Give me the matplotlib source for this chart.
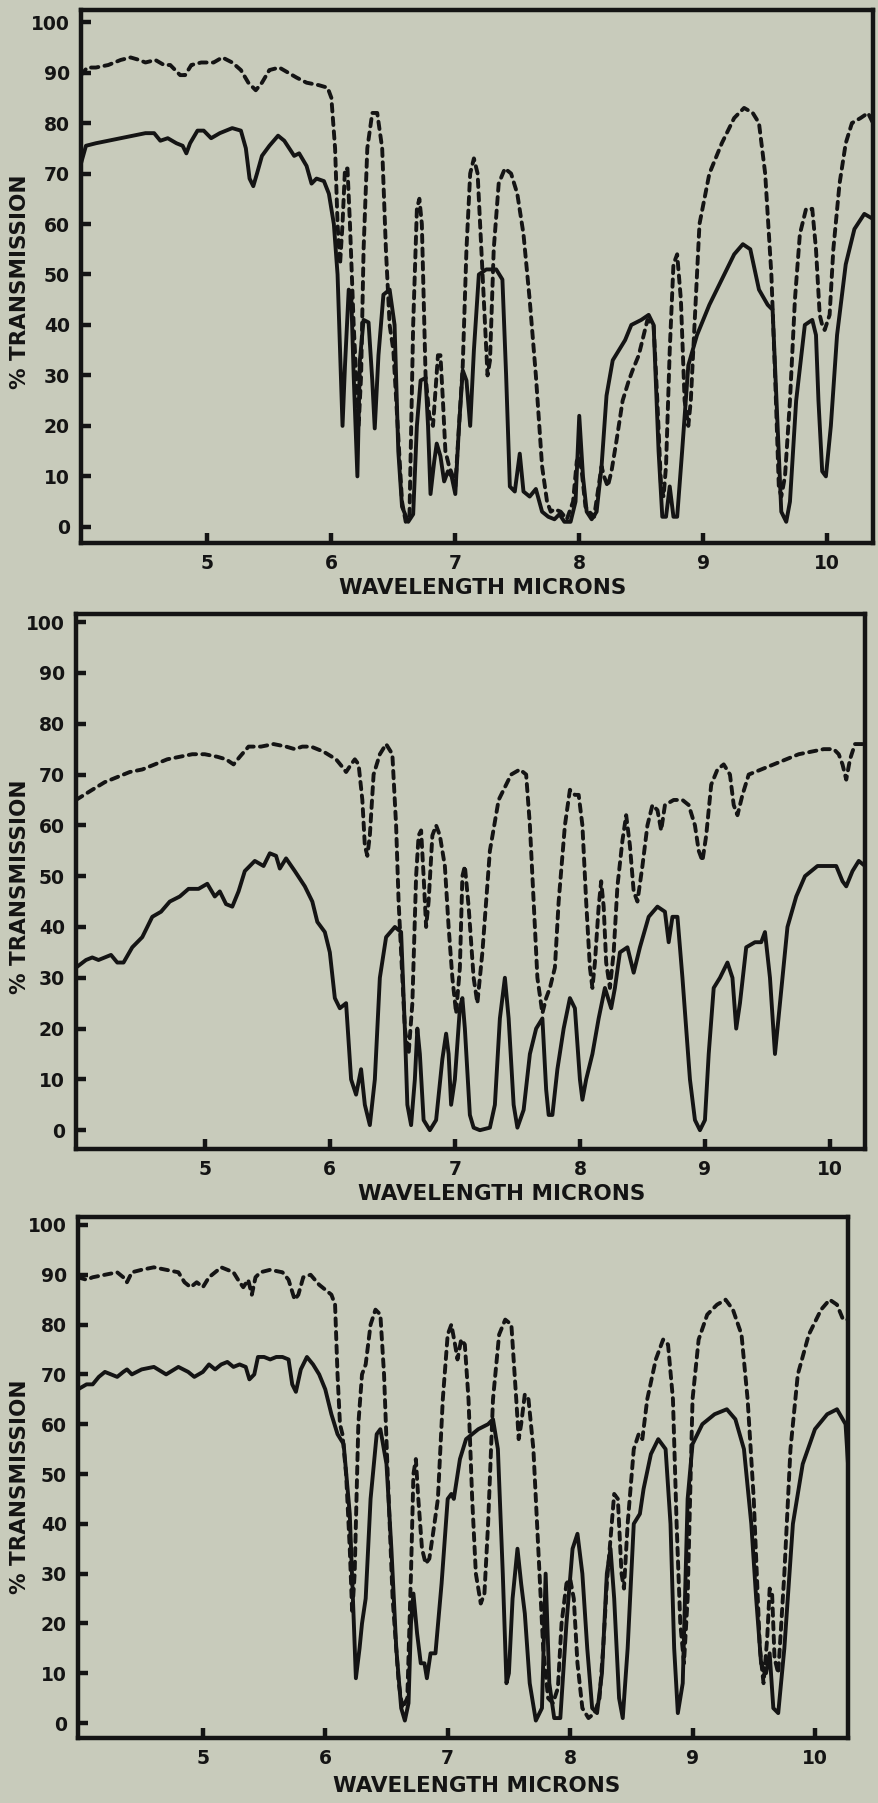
import numpy as np
import matplotlib
matplotlib.use("Agg")
import matplotlib.pyplot as plt

# ---- data (wavelength in microns, % transmission) ----
p1_solid = [
    (3.98, 72), (4.02, 75.5), (4.1, 76), (4.3, 77), (4.5, 78), (4.57, 78), (4.62, 76.5),
    (4.68, 77), (4.75, 76), (4.8, 75.5), (4.83, 74), (4.86, 76), (4.92, 78.5), (4.97, 78.5),
    (5.03, 77), (5.1, 78), (5.2, 79), (5.27, 78.5), (5.31, 75), (5.34, 69), (5.37, 67.5),
    (5.40, 70), (5.44, 73.5), (5.5, 75.5), (5.57, 77.5), (5.62, 76.5), (5.7, 73.5), (5.74, 74),
    (5.8, 71.5), (5.84, 68), (5.88, 69), (5.94, 68.5), (5.98, 66), (6.02, 60), (6.05, 50),
    (6.07, 35), (6.09, 20), (6.11, 32), (6.14, 47), (6.16, 46), (6.18, 30), (6.21, 10),
    (6.23, 33), (6.26, 41), (6.30, 40.5), (6.33, 29), (6.35, 19.5), (6.38, 34), (6.42, 46),
    (6.47, 47), (6.51, 40), (6.54, 15), (6.57, 4), (6.62, 1), (6.66, 2.5), (6.69, 20),
    (6.72, 29), (6.76, 29.5), (6.78, 20), (6.80, 6.5), (6.83, 13), (6.85, 16.5), (6.88, 14),
    (6.91, 9), (6.94, 11), (6.97, 10), (7.00, 6.5), (7.03, 20), (7.06, 31), (7.09, 29),
    (7.12, 20), (7.15, 35), (7.19, 50), (7.25, 51), (7.33, 51), (7.38, 49), (7.41, 30),
    (7.44, 8), (7.48, 7), (7.52, 14.5), (7.55, 7), (7.60, 6), (7.65, 7.5), (7.70, 3),
    (7.75, 2), (7.80, 1.5), (7.84, 2.5), (7.88, 1), (7.93, 1), (7.97, 5), (8.00, 22),
    (8.03, 10), (8.06, 3), (8.10, 1.5), (8.14, 3), (8.18, 12), (8.22, 26), (8.27, 33),
    (8.32, 35), (8.37, 37), (8.42, 40), (8.50, 41), (8.56, 42), (8.60, 40), (8.64, 15),
    (8.67, 2), (8.70, 2), (8.73, 8), (8.76, 2), (8.79, 2), (8.83, 15), (8.88, 32),
    (8.95, 38), (9.05, 44), (9.15, 49), (9.25, 54), (9.32, 56), (9.38, 55), (9.45, 47),
    (9.52, 44), (9.56, 43), (9.60, 20), (9.63, 3), (9.67, 1), (9.70, 5), (9.75, 25),
    (9.82, 40), (9.88, 41), (9.91, 38), (9.93, 25), (9.96, 11), (9.99, 10), (10.03, 20),
    (10.08, 38), (10.15, 52), (10.22, 59), (10.30, 62), (10.37, 61),
]
p1_dashed = [
    (3.98, 89.5), (4.03, 91), (4.1, 91), (4.2, 91.5), (4.3, 92.5), (4.38, 93), (4.45, 92.5),
    (4.5, 92), (4.58, 92.5), (4.65, 91.5), (4.7, 91.5), (4.78, 89.5), (4.82, 89.5),
    (4.87, 91.5), (4.95, 92), (5.05, 92), (5.12, 93), (5.2, 92), (5.27, 90.5), (5.33, 88),
    (5.39, 86.5), (5.44, 88), (5.5, 90.5), (5.58, 91), (5.65, 90), (5.72, 89), (5.8, 88),
    (5.9, 87.5), (5.97, 87), (6.0, 85), (6.03, 75), (6.05, 60), (6.07, 52), (6.09, 60),
    (6.11, 71), (6.13, 71), (6.15, 60), (6.18, 40), (6.2, 30), (6.22, 20), (6.24, 30),
    (6.26, 55), (6.29, 75), (6.33, 82), (6.37, 82), (6.41, 75), (6.44, 55), (6.47, 40),
    (6.5, 35), (6.53, 22), (6.57, 5), (6.6, 1), (6.63, 2), (6.66, 40), (6.69, 63),
    (6.71, 65), (6.73, 60), (6.76, 30), (6.79, 22), (6.82, 20), (6.86, 34), (6.88, 34),
    (6.9, 25), (6.92, 15), (6.95, 12), (6.98, 10), (7.0, 8), (7.03, 20), (7.06, 32),
    (7.09, 55), (7.12, 70), (7.15, 73), (7.18, 70), (7.21, 55), (7.24, 40), (7.26, 30),
    (7.28, 33), (7.31, 55), (7.35, 68), (7.4, 71), (7.45, 70), (7.5, 66), (7.55, 58),
    (7.6, 45), (7.65, 30), (7.7, 12), (7.74, 5), (7.77, 3), (7.8, 3.5), (7.85, 3),
    (7.9, 1.5), (7.95, 5), (7.98, 13), (8.0, 14), (8.02, 11), (8.05, 4), (8.08, 3),
    (8.12, 2), (8.15, 7), (8.18, 12), (8.2, 10), (8.23, 8), (8.26, 11), (8.3, 17),
    (8.35, 25), (8.4, 29), (8.43, 31), (8.48, 34), (8.55, 41), (8.6, 40), (8.63, 25),
    (8.66, 8), (8.68, 6), (8.7, 12), (8.73, 35), (8.76, 52), (8.79, 54), (8.82, 45),
    (8.85, 25), (8.88, 20), (8.9, 25), (8.93, 40), (8.97, 60), (9.05, 70), (9.15, 76),
    (9.25, 81), (9.33, 83), (9.4, 82), (9.45, 80), (9.5, 70), (9.55, 50), (9.58, 30),
    (9.61, 8), (9.63, 6), (9.66, 10), (9.7, 25), (9.74, 45), (9.78, 58), (9.83, 63),
    (9.88, 63), (9.91, 55), (9.94, 42), (9.96, 40), (9.98, 39), (10.02, 42), (10.05, 55),
    (10.1, 68), (10.15, 76), (10.2, 80), (10.27, 81), (10.33, 82), (10.37, 80),
]
p2_solid = [
    (3.97, 32), (4.05, 33.5), (4.1, 34), (4.15, 33.5), (4.2, 34), (4.25, 34.5), (4.3, 33),
    (4.35, 33), (4.42, 36), (4.5, 38), (4.58, 42), (4.65, 43), (4.72, 45), (4.8, 46),
    (4.87, 47.5), (4.95, 47.5), (5.02, 48.5), (5.08, 46), (5.12, 47), (5.17, 44.5),
    (5.22, 44), (5.27, 47), (5.32, 51), (5.4, 53), (5.47, 52), (5.52, 54.5), (5.57, 54),
    (5.6, 51.5), (5.65, 53.5), (5.72, 51), (5.8, 48), (5.86, 45), (5.9, 41), (5.96, 39),
    (6.0, 35), (6.04, 26), (6.08, 24), (6.13, 25), (6.17, 10), (6.21, 7), (6.25, 12),
    (6.28, 5), (6.32, 1), (6.36, 10), (6.4, 30), (6.45, 38), (6.52, 40), (6.57, 39),
    (6.6, 20), (6.62, 5), (6.65, 1), (6.68, 10), (6.7, 20), (6.72, 15), (6.75, 2), (6.8, 0),
    (6.85, 2), (6.9, 14), (6.93, 19), (6.95, 15), (6.97, 5), (7.0, 10), (7.04, 24),
    (7.06, 26), (7.08, 20), (7.12, 3), (7.15, 0.5), (7.2, 0), (7.28, 0.5), (7.32, 5),
    (7.36, 22), (7.4, 30), (7.43, 22), (7.47, 5), (7.5, 0.5), (7.55, 4), (7.6, 15),
    (7.65, 20), (7.7, 22), (7.73, 8), (7.75, 3), (7.78, 3), (7.82, 12), (7.87, 20),
    (7.92, 26), (7.96, 24), (8.0, 10), (8.02, 6), (8.05, 10), (8.1, 15), (8.15, 22),
    (8.2, 28), (8.25, 24), (8.28, 28), (8.32, 35), (8.38, 36), (8.43, 31), (8.48, 36),
    (8.55, 42), (8.62, 44), (8.68, 43), (8.71, 37), (8.74, 42), (8.78, 42), (8.82, 30),
    (8.88, 10), (8.92, 2), (8.96, 0), (9.0, 2), (9.03, 15), (9.07, 28), (9.12, 30),
    (9.18, 33), (9.22, 30), (9.25, 20), (9.28, 25), (9.33, 36), (9.4, 37), (9.45, 37),
    (9.48, 39), (9.52, 30), (9.56, 15), (9.6, 25), (9.66, 40), (9.73, 46), (9.8, 50),
    (9.9, 52), (9.98, 52), (10.05, 52), (10.1, 49), (10.13, 48), (10.18, 51), (10.23, 53),
    (10.28, 52),
]
p2_dashed = [
    (3.97, 65), (4.1, 67), (4.2, 68.5), (4.3, 69.5), (4.4, 70.5), (4.5, 71), (4.6, 72),
    (4.7, 73), (4.8, 73.5), (4.9, 74), (5.0, 74), (5.1, 73.5), (5.17, 73), (5.23, 72),
    (5.28, 73.5), (5.35, 75.5), (5.45, 75.5), (5.55, 76), (5.65, 75.5), (5.72, 75),
    (5.78, 75.5), (5.85, 75.5), (5.95, 74.5), (6.05, 73), (6.1, 71.5), (6.13, 70.5),
    (6.17, 72), (6.2, 73), (6.23, 72), (6.26, 65), (6.28, 56), (6.3, 54), (6.32, 58),
    (6.35, 70), (6.4, 74), (6.45, 76), (6.5, 74), (6.53, 60), (6.55, 45), (6.58, 30),
    (6.6, 20), (6.63, 15), (6.66, 25), (6.69, 50), (6.71, 58), (6.73, 59), (6.75, 50),
    (6.77, 40), (6.79, 45), (6.82, 58), (6.85, 60), (6.88, 58), (6.92, 52), (6.95, 40),
    (6.98, 30), (7.01, 23), (7.04, 32), (7.06, 50), (7.08, 52), (7.11, 44), (7.15, 30),
    (7.18, 25), (7.22, 35), (7.28, 55), (7.35, 65), (7.45, 70), (7.52, 71), (7.57, 70),
    (7.6, 60), (7.63, 45), (7.66, 30), (7.7, 23), (7.73, 26), (7.76, 28), (7.8, 32),
    (7.83, 45), (7.88, 60), (7.92, 67), (7.96, 66), (7.99, 66), (8.02, 60), (8.05, 45),
    (8.08, 32), (8.1, 28), (8.12, 33), (8.15, 44), (8.17, 49), (8.19, 44), (8.21, 33),
    (8.24, 28), (8.27, 35), (8.3, 48), (8.34, 57), (8.37, 62), (8.4, 56), (8.43, 47),
    (8.46, 45), (8.5, 52), (8.54, 60), (8.58, 64), (8.62, 63), (8.65, 59), (8.68, 64),
    (8.75, 65), (8.82, 65), (8.87, 64), (8.92, 60), (8.95, 55), (8.98, 53), (9.01, 58),
    (9.05, 68), (9.1, 71), (9.15, 72), (9.2, 70), (9.23, 64), (9.26, 62), (9.3, 66),
    (9.35, 70), (9.45, 71), (9.55, 72), (9.65, 73), (9.75, 74), (9.85, 74.5), (9.95, 75),
    (10.03, 75), (10.07, 74), (10.1, 72), (10.13, 69), (10.16, 73), (10.2, 76), (10.28, 76),
]
p3_solid = [
    (3.98, 67), (4.05, 68), (4.1, 68), (4.15, 69.5), (4.2, 70.5), (4.25, 70), (4.3, 69.5),
    (4.35, 70.5), (4.38, 71), (4.42, 70), (4.5, 71), (4.6, 71.5), (4.7, 70), (4.8, 71.5),
    (4.88, 70.5), (4.93, 69.5), (5.0, 70.5), (5.05, 72), (5.1, 71), (5.15, 72), (5.2, 72.5),
    (5.25, 71.5), (5.3, 72), (5.35, 71.5), (5.38, 69), (5.42, 70), (5.45, 73.5), (5.5, 73.5),
    (5.55, 73), (5.6, 73.5), (5.65, 73.5), (5.7, 73), (5.73, 68), (5.76, 66.5), (5.8, 71),
    (5.85, 73.5), (5.9, 72), (5.95, 70), (6.0, 67), (6.05, 62), (6.1, 58), (6.15, 56),
    (6.2, 42), (6.23, 22), (6.25, 9), (6.28, 15), (6.3, 20), (6.33, 25), (6.37, 45),
    (6.42, 58), (6.45, 59), (6.5, 52), (6.54, 35), (6.58, 15), (6.62, 3), (6.65, 0.5),
    (6.68, 4), (6.7, 20), (6.72, 26), (6.75, 18), (6.78, 12), (6.81, 12), (6.83, 9),
    (6.86, 14), (6.9, 14), (6.95, 28), (7.0, 45), (7.03, 46), (7.05, 45), (7.1, 53),
    (7.15, 57), (7.25, 59), (7.33, 60), (7.37, 61), (7.41, 55), (7.45, 30), (7.48, 8),
    (7.5, 10), (7.53, 25), (7.57, 35), (7.6, 28), (7.63, 22), (7.67, 8), (7.72, 0.5),
    (7.77, 3), (7.8, 30), (7.83, 8), (7.87, 1), (7.92, 1), (7.97, 20), (8.02, 35),
    (8.06, 38), (8.1, 30), (8.14, 15), (8.18, 3), (8.22, 2), (8.26, 10), (8.3, 30),
    (8.33, 35), (8.36, 25), (8.4, 5), (8.43, 1), (8.47, 15), (8.52, 40), (8.57, 42),
    (8.6, 47), (8.66, 54), (8.72, 57), (8.78, 55), (8.82, 40), (8.85, 15), (8.88, 2),
    (8.92, 8), (8.96, 45), (9.0, 56), (9.08, 60), (9.18, 62), (9.28, 63), (9.35, 61),
    (9.42, 55), (9.48, 40), (9.52, 25), (9.56, 12), (9.6, 10), (9.63, 14), (9.66, 3),
    (9.7, 2), (9.75, 15), (9.82, 40), (9.9, 52), (10.0, 59), (10.1, 62), (10.18, 63),
    (10.25, 60), (10.27, 52),
]
p3_dashed = [
    (3.98, 89.5), (4.05, 89), (4.1, 89.5), (4.2, 90), (4.3, 90.5), (4.35, 89.5),
    (4.38, 88.5), (4.42, 90.5), (4.5, 91), (4.6, 91.5), (4.7, 91), (4.8, 90.5), (4.85, 88.5),
    (4.9, 87.5), (4.95, 88.5), (5.0, 87.5), (5.05, 89.5), (5.1, 90.5), (5.15, 91.5),
    (5.2, 91), (5.25, 90.5), (5.3, 88.5), (5.33, 87.5), (5.37, 89), (5.4, 86), (5.43, 89.5),
    (5.47, 90.5), (5.55, 91), (5.65, 90.5), (5.7, 89), (5.75, 85), (5.78, 86), (5.82, 89.5),
    (5.88, 90), (5.95, 88), (6.0, 87), (6.05, 86), (6.08, 84), (6.1, 70), (6.12, 60),
    (6.14, 58), (6.17, 50), (6.2, 35), (6.22, 22), (6.24, 30), (6.27, 60), (6.3, 70),
    (6.33, 72), (6.37, 80), (6.41, 83), (6.45, 82), (6.48, 70), (6.51, 50), (6.55, 25),
    (6.6, 8), (6.63, 3), (6.67, 5), (6.7, 30), (6.72, 50), (6.74, 53), (6.76, 45),
    (6.79, 35), (6.82, 32), (6.85, 33), (6.88, 38), (6.92, 45), (6.96, 65), (7.0, 78),
    (7.03, 80), (7.06, 76), (7.08, 73), (7.11, 77), (7.14, 76), (7.17, 65), (7.2, 45),
    (7.23, 30), (7.27, 24), (7.3, 26), (7.33, 40), (7.37, 65), (7.42, 78), (7.47, 81),
    (7.52, 80), (7.56, 65), (7.58, 57), (7.6, 60), (7.63, 66), (7.66, 65), (7.7, 55),
    (7.74, 35), (7.78, 15), (7.82, 5), (7.86, 4), (7.9, 7), (7.93, 20), (7.97, 28),
    (8.0, 29), (8.03, 25), (8.06, 12), (8.1, 3), (8.15, 1), (8.2, 2), (8.24, 5), (8.27, 15),
    (8.3, 28), (8.34, 40), (8.36, 46), (8.39, 45), (8.42, 30), (8.44, 27), (8.47, 40),
    (8.52, 55), (8.56, 58), (8.59, 57), (8.63, 65), (8.7, 73), (8.76, 77), (8.8, 76),
    (8.84, 65), (8.87, 40), (8.9, 20), (8.93, 12), (8.96, 25), (9.0, 65), (9.05, 77),
    (9.12, 82), (9.2, 84), (9.27, 85), (9.33, 83), (9.4, 78), (9.45, 65), (9.5, 45),
    (9.55, 15), (9.58, 8), (9.61, 17), (9.63, 27), (9.65, 26), (9.67, 13), (9.7, 10),
    (9.75, 30), (9.8, 55), (9.86, 70), (9.95, 78), (10.05, 83), (10.12, 85), (10.18, 84),
    (10.23, 81), (10.27, 81),
]

y_ticks = list(range(0, 101, 10))
x_ticks = [5, 6, 7, 8, 9, 10]
x_label = "WAVELENGTH MICRONS"
y_label = "% TRANSMISSION"

# ---- layout (pixel boxes of the three plots) ----
W, H = 879, 1803
BG = "#c8cbbb"
INK = "#141414"
panels = [
    # left, right, top, bottom, xlim, ylim, solid, dashed, xlabel x, xlabel y, ylabel y
    (81, 873, 10, 543, (3.98, 10.37), (-3.2, 102.4), p1_solid, p1_dashed, 483, 588, 282),
    (76, 865, 614, 1149, (3.97, 10.28), (-3.7, 101.6), p2_solid, p2_dashed, 502, 1194, 887),
    (78, 848, 1217, 1738, (3.98, 10.27), (-3.0, 101.6), p3_solid, p3_dashed, 477, 1786, 1487),
]

plt.rcParams["font.family"] = ["DejaVu Sans"]
fig = plt.figure(figsize=(W / 100, H / 100), dpi=100, facecolor=BG)

for (l, r, t, b, xl, yl, solid, dashed, lx, ly, ylc) in panels:
    ax = fig.add_axes([l / W, 1 - b / H, (r - l) / W, (b - t) / H])
    ax.set_facecolor(BG)
    s = np.array(solid).T
    d = np.array(dashed).T
    ax.plot(d[0], d[1], color=INK, lw=2.8, linestyle=(0, (1.9, 1.6)),
            dash_capstyle="round", solid_joinstyle="round")
    ax.plot(s[0], s[1], color=INK, lw=2.8, solid_joinstyle="round",
            solid_capstyle="round")
    ax.set_xlim(*xl)
    ax.set_ylim(*yl)
    ax.set_xticks(x_ticks)
    ax.set_yticks(y_ticks)
    ax.tick_params(axis="both", direction="in", length=7, width=3.2, color=INK,
                   labelsize=13.5, labelcolor=INK)
    ax.tick_params(axis="y", pad=8)
    ax.tick_params(axis="x", pad=8)
    for lab in ax.get_xticklabels() + ax.get_yticklabels():
        lab.set_fontweight("bold")
    for sp in ax.spines.values():
        sp.set_linewidth(3.2)
        sp.set_color(INK)
    fig.text(lx / W, 1 - ly / H, x_label, ha="center", va="center",
             fontsize=15.5, fontweight="bold", color=INK)
    fig.text(20 / W, 1 - ylc / H, y_label, ha="center", va="center",
             rotation=90, fontsize=15.5, fontweight="bold", color=INK)

fig.savefig("out.png", dpi=100, facecolor=BG)
